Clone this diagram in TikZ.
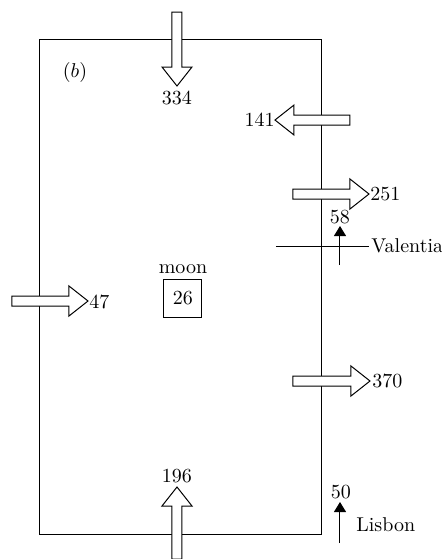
\documentclass[tikz,border=0pt]{standalone}
\usetikzlibrary{arrows.meta}
\begin{document}
\begin{tikzpicture}[x=0.5pt,y=-0.5pt,
  lbl/.style={inner sep=0pt,font=\fontsize{10}{12}\selectfont},
  boxlbl/.style={draw,line width=0.5pt,minimum width=19pt,minimum height=19pt,inner sep=0pt,font=\fontsize{10}{12}\selectfont},
  smallarr/.style={line width=0.5pt,-{Triangle[length=5pt,width=6pt]}},
  thin line/.style={line width=0.5pt},
  blockarr/.pic={\draw[fill=white,line width=0.5pt,line join=miter]
     (0,-5) -- (#1-19,-5) -- (#1-19,-15) -- (#1,0) -- (#1-19,15) -- (#1-19,5) -- (0,5) -- cycle;}]
\useasboundingbox (0,0) rectangle (442,559);
% region boundary
\draw[thin line] (40,39) rectangle (322,534);
% block arrows
\pic[rotate=-90] at (177,12) {blockarr=74};
\pic[rotate=180] at (350,120) {blockarr=75};
\pic at (293,194) {blockarr=76};
\pic at (12,301) {blockarr=76};
\pic at (293,381) {blockarr=77};
\pic[rotate=90] at (177,559) {blockarr=72};
% labels
\node[lbl] (b) at (75,72) {$(b)$};
\node[lbl] (n334) at (177,98) {334};
\node[lbl,anchor=east] (n141) at (275,120) {141};
\node[lbl,anchor=west] (n251) at (370,194) {251};
\node[lbl] (n58) at (340,217) {58};
\node[lbl,anchor=west] (val) at (371,246) {Valentia};
\node[lbl,anchor=west] (n47) at (89,302) {47};
\node[lbl] (moon) at (183,269) {moon};
\node[boxlbl] (n26) at (183,298) {26};
\node[lbl,anchor=west] (n370) at (372,381) {370};
\node[lbl] (n196) at (177,476) {196};
\node[lbl] (n50) at (341,492) {50};
\node[lbl,anchor=west] (lis) at (356,525) {Lisbon};
% station markers
\coordinate (vl) at (276,246);
\coordinate (t58) at (340,265);
\coordinate (h58) at (340,226);
\coordinate (t50) at (340,543);
\coordinate (h50) at (340,502);
\draw[thin line,shorten >=1pt] (vl) -- (vl -| val.west);
\draw[smallarr] (t58) -- (h58);
\draw[smallarr] (t50) -- (h50);
\end{tikzpicture}
\end{document}
